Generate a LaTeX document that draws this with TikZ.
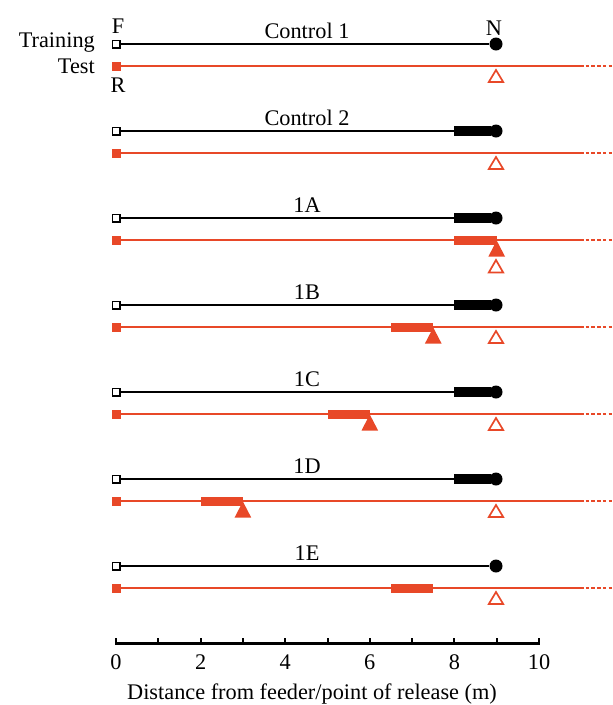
\documentclass[tikz,border=0pt]{standalone}
\usepackage{fontspec}
\setmainfont{Liberation Serif}
\definecolor{redl}{RGB}{232,72,40}
\begin{document}
\begin{tikzpicture}[x=1pt,y=-1pt,
  lbl/.style={font=\fontsize{22.3}{25}\selectfont,inner sep=0pt},
  opensq/.style={draw=black,fill=white,line width=1.5pt,minimum size=7.5pt,inner sep=0pt},
  redsq/.style={fill=redl,minimum size=9pt,inner sep=0pt},
  endpt/.style={circle,fill=black,minimum size=13pt,inner sep=0pt},
  trainline/.style={line width=2.8pt,black},
  testline/.style={line width=2.8pt,redl},
  dotline/.style={line width=2.8pt,redl,dash pattern=on 3.5pt off 2.2pt},
  blackbar/.style={fill=black},
  redbar/.style={fill=redl},
  opentri/.style={draw=redl,line width=1.7pt,fill=white,line join=miter},
  filltri/.style={fill=redl}
]
\useasboundingbox (0,0) rectangle (613,705);
\foreach \i/\lab/\bb/\rs/\tri in {0/Control 1/0/0/0, 1/Control 2/1/0/0, 2/1A/1/8/9, 3/1B/1/6.5/7.5, 4/1C/1/5/6, 5/1D/1/2/3, 6/1E/0/6.5/0}{
  \pgfmathsetmacro\yT{44+87*\i}
  \pgfmathsetmacro\yR{\yT+22}
  \node[lbl,anchor=base] (L\i) at (307,\yT-6) {\lab};
  \node[opensq] (F\i) at (116,\yT) {};
  \node[endpt] (N\i) at (496,\yT) {};
  \node[redsq] (R\i) at (116,\yR) {};
  \coordinate (E\i) at (580,\yR);
  \coordinate (D\i) at (613,\yR);
  \draw[trainline] (F\i) -- (N\i);
  \draw[testline] (R\i) -- (E\i);
  \draw[dotline] (E\i) -- (D\i);
  \ifnum\bb=1
    \fill[blackbar] (454,\yT-4.8) rectangle (491,\yT+4.8);
  \fi
  \ifnum\i>1
    \ifnum\i=6
      \fill[redbar] (391,\yR-4.5) rectangle (433,\yR+4.5);
    \else
      \pgfmathsetmacro\xa{116+42.3*\rs}
      \pgfmathsetmacro\xb{\xa+42.3}
      \fill[redbar] (\xa,\yR-4.5) rectangle (\xb,\yR+4.5);
      \pgfmathsetmacro\xt{116+42.3*\tri}
      \fill[filltri] (\xt,\yR+0.5) -- (\xt+8.3,\yR+16.5) -- (\xt-8.3,\yR+16.5) -- cycle;
    \fi
  \fi
  \ifnum\i=2
    \draw[opentri] (496,\yR+20) -- (503.2,\yR+32.5) -- (488.8,\yR+32.5) -- cycle;
  \else
    \draw[opentri] (496,\yR+4) -- (503.2,\yR+16) -- (488.8,\yR+16) -- cycle;
  \fi
}
\node[lbl,anchor=base] (Fl) at (118,33) {F};
\node[lbl,anchor=base] (Rl) at (118,92) {R};
\node[lbl,anchor=base] (Nl) at (494,35) {N};
\node[lbl,anchor=base east] (Tr) at (95,47) {Training};
\node[lbl,anchor=base east] (Te) at (95,73) {Test};
% axis
\draw[line width=2.2pt] (115,643.5) -- (540,643.5);
\foreach \k in {0,...,10}{
  \draw[line width=2pt] (116+42.3*\k,644) -- (116+42.3*\k,638);
}
\foreach \k in {0,2,4,6,8,10}{
  \node[lbl,anchor=base] (T\k) at (116+42.3*\k,669) {\k};
}
\node[lbl,anchor=base] (AX) at (312,699) {Distance from feeder/point of release (m)};
\end{tikzpicture}
\end{document}
